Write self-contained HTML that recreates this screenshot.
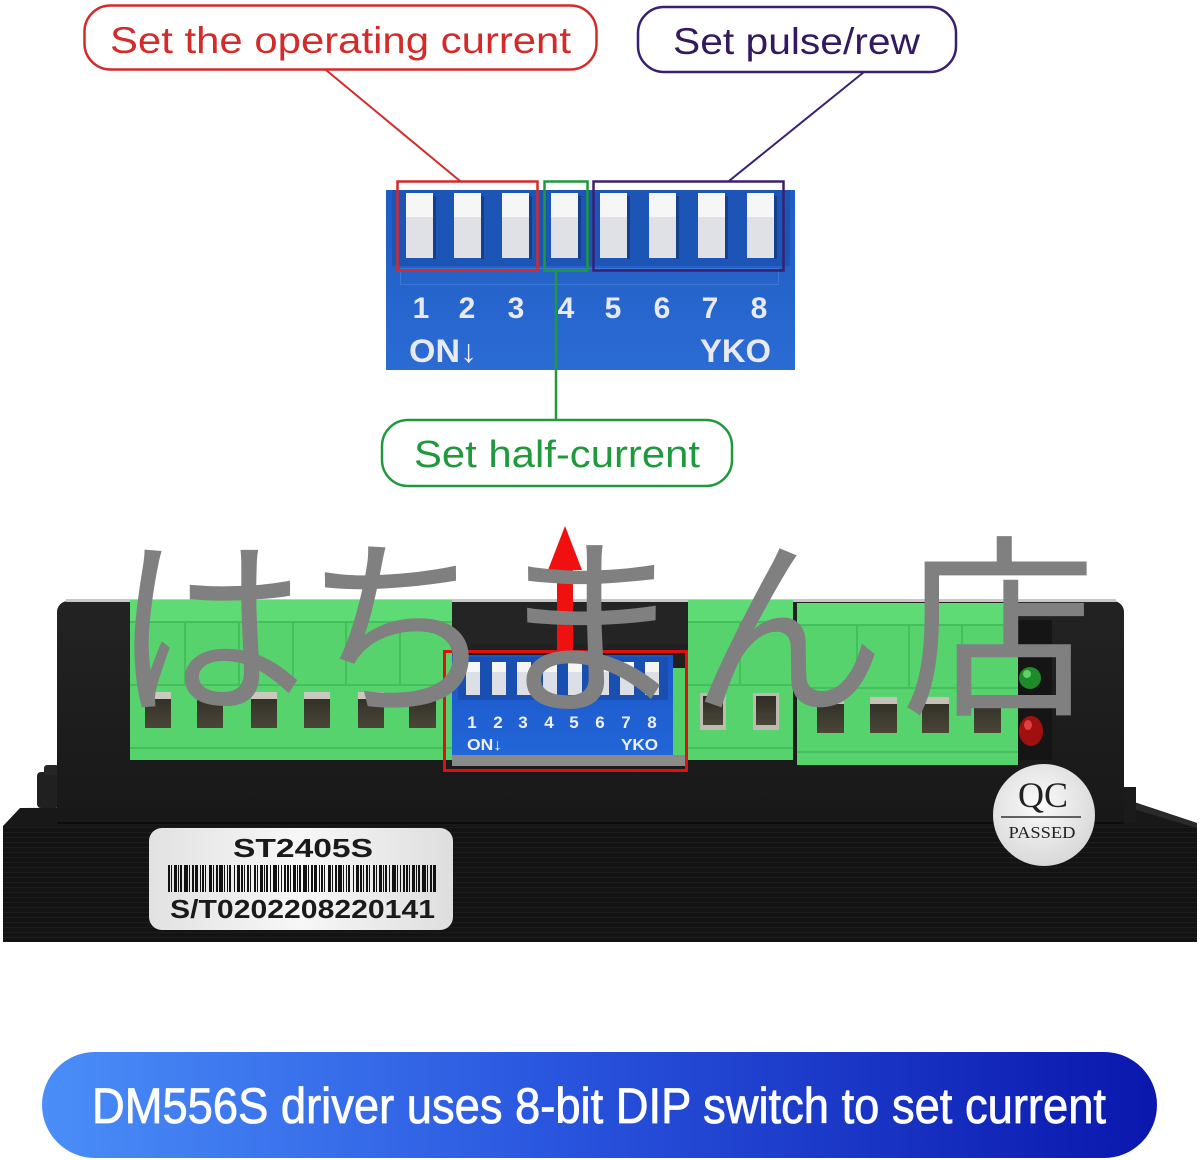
<!DOCTYPE html>
<html><head><meta charset="utf-8"><style>
html,body{margin:0;padding:0;background:#fff;}
svg{display:block;}
</style></head><body>
<svg xmlns="http://www.w3.org/2000/svg" width="1200" height="1160" viewBox="0 0 1200 1160" font-family="'Liberation Sans', sans-serif">
<defs>
 <linearGradient id="ban" x1="0" x2="1" y1="0" y2="0">
  <stop offset="0" stop-color="#4a8ef8"/>
  <stop offset="0.45" stop-color="#2a56df"/>
  <stop offset="1" stop-color="#0a17ad"/>
 </linearGradient>
 <linearGradient id="dipg" x1="0" y1="0" x2="0" y2="1">
  <stop offset="0" stop-color="#1f5cc2"/>
  <stop offset="1" stop-color="#2b6bd4"/>
 </linearGradient>
 <linearGradient id="sdip" x1="0" y1="0" x2="0" y2="1">
  <stop offset="0" stop-color="#1b56c8"/>
  <stop offset="1" stop-color="#2266d8"/>
 </linearGradient>
 <radialGradient id="qc" cx="0.45" cy="0.4" r="0.65">
  <stop offset="0" stop-color="#fbfbfb"/><stop offset="1" stop-color="#d6d6d6"/>
 </radialGradient>
 <linearGradient id="stk" x1="0" x2="1">
  <stop offset="0" stop-color="#e2e2e2"/><stop offset="0.5" stop-color="#f7f7f7"/><stop offset="1" stop-color="#dedede"/>
 </linearGradient>
 <pattern id="brush" width="10" height="5" patternUnits="userSpaceOnUse">
  <rect width="10" height="5" fill="#131313"/><rect y="2" width="10" height="1" fill="#1d1d1d"/>
 </pattern>
 <linearGradient id="body" x1="0" y1="0" x2="0" y2="1">
  <stop offset="0" stop-color="#232323"/><stop offset="1" stop-color="#181818"/>
 </linearGradient>
 <linearGradient id="hole" x1="0" y1="0" x2="0" y2="1">
  <stop offset="0" stop-color="#2e2c24"/><stop offset="1" stop-color="#4a4638"/>
 </linearGradient>
</defs>

<rect width="1200" height="1160" fill="#fff"/>

<!-- ===== Top callouts ===== -->
<rect x="84.5" y="5.5" width="512" height="64" rx="26" fill="none" stroke="#d42a2a" stroke-width="2.5"/>
<text x="110" y="53" font-size="37" fill="#d42a2a" textLength="461" lengthAdjust="spacingAndGlyphs">Set the operating current</text>
<rect x="638" y="7" width="318" height="65" rx="26" fill="none" stroke="#3a2070" stroke-width="2.5"/>
<text x="673" y="54" font-size="37" fill="#33195f" textLength="247" lengthAdjust="spacingAndGlyphs">Set pulse/rew</text>
<line x1="326" y1="70" x2="460" y2="181" stroke="#d42a2a" stroke-width="2"/>
<line x1="864" y1="72" x2="729" y2="181" stroke="#3a2070" stroke-width="2"/>

<!-- ===== Close-up DIP ===== -->
<rect x="386" y="190" width="409" height="180" fill="url(#dipg)"/>
<rect x="392" y="190" width="398" height="76" fill="#1d55b6"/>
<rect x="400.5" y="268.5" width="378" height="16" fill="none" stroke="#3d78d6" stroke-width="1"/>
<g>
 <rect x="406" y="193" width="27" height="65" fill="#dfe1e6"/><rect x="406" y="193" width="27" height="24" fill="#f6f6f6"/><rect x="433" y="196" width="3" height="63" fill="#143f8c"/>
 <rect x="454" y="193" width="27" height="65" fill="#dfe1e6"/><rect x="454" y="193" width="27" height="24" fill="#f6f6f6"/><rect x="481" y="196" width="3" height="63" fill="#143f8c"/>
 <rect x="502" y="193" width="27" height="65" fill="#dfe1e6"/><rect x="502" y="193" width="27" height="24" fill="#f6f6f6"/><rect x="529" y="196" width="3" height="63" fill="#143f8c"/>
 <rect x="551" y="193" width="27" height="65" fill="#dfe1e6"/><rect x="551" y="193" width="27" height="24" fill="#f6f6f6"/><rect x="578" y="196" width="3" height="63" fill="#143f8c"/>
 <rect x="600" y="193" width="27" height="65" fill="#dfe1e6"/><rect x="600" y="193" width="27" height="24" fill="#f6f6f6"/><rect x="627" y="196" width="3" height="63" fill="#143f8c"/>
 <rect x="649" y="193" width="27" height="65" fill="#dfe1e6"/><rect x="649" y="193" width="27" height="24" fill="#f6f6f6"/><rect x="676" y="196" width="3" height="63" fill="#143f8c"/>
 <rect x="698" y="193" width="27" height="65" fill="#dfe1e6"/><rect x="698" y="193" width="27" height="24" fill="#f6f6f6"/><rect x="725" y="196" width="3" height="63" fill="#143f8c"/>
 <rect x="747" y="193" width="27" height="65" fill="#dfe1e6"/><rect x="747" y="193" width="27" height="24" fill="#f6f6f6"/><rect x="774" y="196" width="3" height="63" fill="#143f8c"/>
</g>
<g font-size="30" font-weight="bold" fill="#e8eaf2" text-anchor="middle">
 <text x="421" y="318">1</text><text x="467" y="318">2</text><text x="516" y="318">3</text><text x="566" y="318">4</text>
 <text x="613" y="318">5</text><text x="662" y="318">6</text><text x="710" y="318">7</text><text x="759" y="318">8</text>
</g>
<text x="409" y="362" font-size="32" font-weight="bold" fill="#e8eaf2" textLength="68" lengthAdjust="spacingAndGlyphs">ON↓</text>
<text x="700" y="362" font-size="32" font-weight="bold" fill="#e8eaf2" textLength="71" lengthAdjust="spacingAndGlyphs">YKO</text>

<rect x="397.5" y="181.5" width="140" height="89" fill="none" stroke="#d42a2a" stroke-width="2.5"/>
<rect x="544.5" y="181.5" width="43" height="89" fill="none" stroke="#1e9a3c" stroke-width="2.5"/>
<rect x="593.5" y="181.5" width="190" height="89" fill="none" stroke="#3a2070" stroke-width="2.5"/>
<line x1="556" y1="271" x2="556" y2="420" stroke="#1e9a3c" stroke-width="2.5"/>

<rect x="382" y="420" width="350" height="66" rx="26" fill="none" stroke="#1e9a3c" stroke-width="2.5"/>
<text x="414" y="467" font-size="38" fill="#1e9a3c" textLength="286" lengthAdjust="spacingAndGlyphs">Set half-current</text>

<!-- ===== Product ===== -->
<polygon points="3,826 20,808 1134,802 1197,823 1197,935 1190,942 3,942" fill="#181818"/>
<rect x="3" y="826" width="1194" height="116" fill="url(#brush)"/>
<polygon points="1134,802 1197,823 1197,828 1130,808" fill="#2a2a2a"/>
<rect x="37" y="772" width="22" height="36" rx="4" fill="#202020"/>
<rect x="44" y="765" width="15" height="10" rx="3" fill="#262626"/>
<rect x="57" y="601" width="1067" height="222" rx="11" fill="url(#body)"/>
<rect x="66" y="599" width="1050" height="3" fill="#c8c8c8"/>
<rect x="1124" y="787" width="12" height="36" fill="#1b1b1b"/>
<line x1="57" y1="823" x2="1124" y2="823" stroke="#0c0c0c" stroke-width="2"/>

<rect x="1018" y="620" width="34" height="140" fill="#151515"/>
<ellipse cx="1030" cy="678" rx="11" ry="11" fill="#1e8a2a"/>
<ellipse cx="1027" cy="674" rx="4" ry="4" fill="#5fd06a"/>
<ellipse cx="1031" cy="731" rx="12" ry="15" fill="#a01010"/>
<ellipse cx="1028" cy="725" rx="4" ry="5" fill="#e04040"/>

<rect x="130" y="600" width="322" height="160" fill="#56d36c"/>
<rect x="130" y="600" width="322" height="22" fill="#5fdb75"/>
<g stroke="#44bf5b" stroke-width="2">
 <line x1="185" y1="622" x2="185" y2="685"/><line x1="239" y1="622" x2="239" y2="685"/><line x1="293" y1="622" x2="293" y2="685"/>
 <line x1="346" y1="622" x2="346" y2="685"/><line x1="400" y1="622" x2="400" y2="685"/>
 <line x1="130" y1="622" x2="452" y2="622"/><line x1="130" y1="685" x2="452" y2="685"/>
 <line x1="130" y1="748" x2="452" y2="748"/>
</g>
<g>
 <rect x="145" y="692" width="26" height="36" fill="url(#hole)"/><rect x="145" y="692" width="26" height="7" fill="#cbc9bf"/>
 <rect x="197" y="692" width="26" height="36" fill="url(#hole)"/><rect x="197" y="692" width="26" height="7" fill="#cbc9bf"/>
 <rect x="251" y="692" width="26" height="36" fill="url(#hole)"/><rect x="251" y="692" width="26" height="7" fill="#cbc9bf"/>
 <rect x="304" y="692" width="26" height="36" fill="url(#hole)"/><rect x="304" y="692" width="26" height="7" fill="#cbc9bf"/>
 <rect x="358" y="692" width="26" height="36" fill="url(#hole)"/><rect x="358" y="692" width="26" height="7" fill="#cbc9bf"/>
 <rect x="409" y="692" width="27" height="36" fill="url(#hole)"/><rect x="409" y="692" width="27" height="7" fill="#cbc9bf"/>
</g>

<rect x="673" y="668" width="16" height="90" fill="#52cf68"/>
<rect x="688" y="600" width="105" height="160" fill="#56d36c"/>
<rect x="688" y="600" width="105" height="22" fill="#5fdb75"/>
<g stroke="#44bf5b" stroke-width="2">
 <line x1="740" y1="622" x2="740" y2="685"/><line x1="688" y1="622" x2="793" y2="622"/><line x1="688" y1="685" x2="793" y2="685"/><line x1="688" y1="748" x2="793" y2="748"/>
</g>
<rect x="700" y="693" width="26" height="37" fill="#bdbbb0"/><rect x="703" y="696" width="20" height="29" fill="url(#hole)"/>
<rect x="753" y="693" width="26" height="37" fill="#bdbbb0"/><rect x="756" y="696" width="20" height="29" fill="url(#hole)"/>

<rect x="797" y="603" width="221" height="162" fill="#56d36c"/>
<rect x="797" y="603" width="221" height="22" fill="#5fdb75"/>
<g stroke="#44bf5b" stroke-width="2">
 <line x1="857" y1="625" x2="857" y2="688"/><line x1="909" y1="625" x2="909" y2="688"/><line x1="962" y1="625" x2="962" y2="688"/>
 <line x1="797" y1="625" x2="1018" y2="625"/><line x1="797" y1="688" x2="1018" y2="688"/><line x1="797" y1="752" x2="1018" y2="752"/>
</g>
<g>
 <rect x="817" y="697" width="27" height="36" fill="url(#hole)"/><rect x="817" y="697" width="27" height="7" fill="#c4c2b6"/>
 <rect x="870" y="697" width="27" height="36" fill="url(#hole)"/><rect x="870" y="697" width="27" height="7" fill="#c4c2b6"/>
 <rect x="922" y="697" width="27" height="36" fill="url(#hole)"/><rect x="922" y="697" width="27" height="7" fill="#c4c2b6"/>
 <rect x="974" y="697" width="27" height="36" fill="url(#hole)"/><rect x="974" y="697" width="27" height="7" fill="#c4c2b6"/>
</g>

<rect x="452" y="604" width="236" height="40" fill="#242424"/>
<rect x="452" y="655" width="221" height="100" fill="url(#sdip)"/>
<rect x="458" y="657" width="210" height="43" fill="#1a4fb2"/>
<rect x="452" y="755" width="236" height="11" fill="#8a8a88"/>
<g>
 <rect x="466" y="662" width="14" height="33" fill="#dcdfe6"/><rect x="466" y="662" width="14" height="10" fill="#f6f6f6"/>
 <rect x="492" y="662" width="14" height="33" fill="#dcdfe6"/><rect x="492" y="662" width="14" height="10" fill="#f6f6f6"/>
 <rect x="517" y="662" width="14" height="33" fill="#dcdfe6"/><rect x="517" y="662" width="14" height="10" fill="#f6f6f6"/>
 <rect x="543" y="662" width="14" height="33" fill="#dcdfe6"/><rect x="543" y="662" width="14" height="10" fill="#f6f6f6"/>
 <rect x="568" y="662" width="14" height="33" fill="#dcdfe6"/><rect x="568" y="662" width="14" height="10" fill="#f6f6f6"/>
 <rect x="595" y="662" width="14" height="33" fill="#dcdfe6"/><rect x="595" y="662" width="14" height="10" fill="#f6f6f6"/>
 <rect x="620" y="662" width="14" height="33" fill="#dcdfe6"/><rect x="620" y="662" width="14" height="10" fill="#f6f6f6"/>
 <rect x="645" y="662" width="14" height="33" fill="#dcdfe6"/><rect x="645" y="662" width="14" height="10" fill="#f6f6f6"/>
</g>
<g font-size="17" font-weight="bold" fill="#eef0f6" text-anchor="middle">
 <text x="472" y="728">1</text><text x="498" y="728">2</text><text x="523" y="728">3</text><text x="549" y="728">4</text>
 <text x="574" y="728">5</text><text x="600" y="728">6</text><text x="626" y="728">7</text><text x="652" y="728">8</text>
</g>
<text x="467" y="750" font-size="16" font-weight="bold" fill="#eef0f6" textLength="35" lengthAdjust="spacingAndGlyphs">ON↓</text>
<text x="621" y="750" font-size="16" font-weight="bold" fill="#eef0f6" textLength="37" lengthAdjust="spacingAndGlyphs">YKO</text>
<rect x="444.5" y="651.5" width="242" height="119" fill="none" stroke="#e01010" stroke-width="3"/>

<rect x="557" y="566" width="16" height="85" fill="#f01010"/>
<polygon points="565,526 548,570 582,570" fill="#f01010"/>

<rect x="149" y="828" width="304" height="102" rx="13" fill="url(#stk)"/>
<text x="303" y="857" font-size="26" font-weight="bold" fill="#1a1a1a" text-anchor="middle" textLength="140" lengthAdjust="spacingAndGlyphs">ST2405S</text>
<line x1="168" y1="878.5" x2="436" y2="878.5" stroke="#111" stroke-width="27" stroke-dasharray="2 1 1 2 3 1 1 1 2 2 4 1 1 2 2 1 3 2 1 1 2 1 1 3 3 1 1 2 2 1 4 1 1 2 1 1 2 3 1 2 3 1 2 1 1 2 2 1 1 3 2 1 1 2 3 1 1 1 2 2 1 2 4 1 1 2 1 2 2 1"/>
<text x="170" y="918" font-size="26" font-weight="bold" fill="#1a1a1a" textLength="265" lengthAdjust="spacingAndGlyphs">S/T0202208220141</text>

<circle cx="1044" cy="815" r="51" fill="url(#qc)"/>
<text x="1043" y="807" font-family="'Liberation Serif', serif" font-size="36" fill="#222" text-anchor="middle" textLength="50" lengthAdjust="spacingAndGlyphs">QC</text>
<line x1="1001" y1="817" x2="1081" y2="817" stroke="#333" stroke-width="1.5"/>
<text x="1042" y="838" font-family="'Liberation Serif', serif" font-size="17" fill="#222" text-anchor="middle" textLength="67" lengthAdjust="spacingAndGlyphs">PASSED</text>

<!-- watermark -->
<text x="112 303 491 690 901" y="700" font-family="'Noto Sans CJK JP', 'Noto Sans CJK SC', sans-serif" font-size="195" fill="#808080">はちまん店</text>

<!-- ===== Bottom banner ===== -->
<rect x="42" y="1052" width="1115" height="106" rx="53" fill="url(#ban)"/>
<text x="92" y="1123" font-size="50" fill="#fff" stroke="#fff" stroke-width="0.8" textLength="1014" lengthAdjust="spacingAndGlyphs">DM556S driver uses 8-bit DIP switch to set current</text>
</svg>
</body></html>
